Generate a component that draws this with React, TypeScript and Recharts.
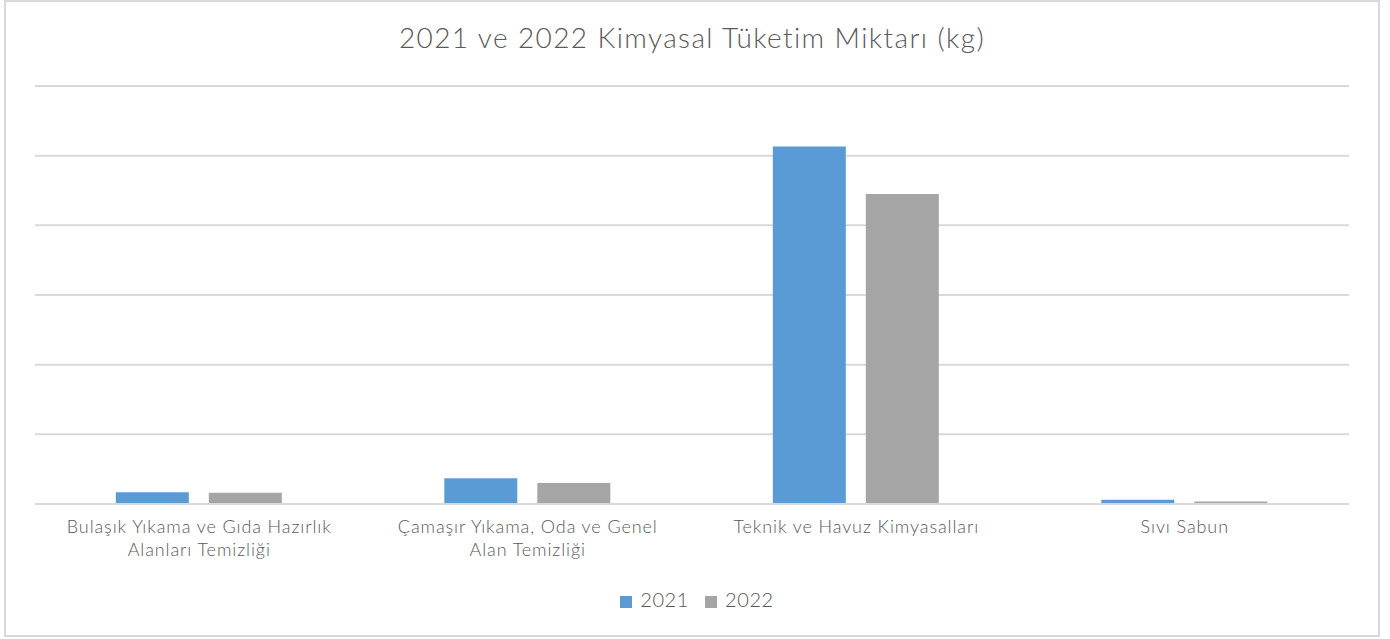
import { BarChart, Bar, XAxis, YAxis, CartesianGrid, Legend } from 'recharts'

// 2021 / 2022 kimyasal tüketim (kg)
const categories = [
  'Bulaşık Yıkama ve Gıda Hazırlık Alanları Temizliği',
  'Çamaşır Yıkama, Oda ve Genel Alan Temizliği',
  'Teknik ve Havuz Kimyasalları',
  'Sıvı Sabun',
]
const tickLines = [
  ['Bulaşık Yıkama ve Gıda Hazırlık', 'Alanları Temizliği'],
  ['Çamaşır Yıkama, Oda ve Genel', 'Alan Temizliği'],
  ['Teknik ve Havuz Kimyasalları'],
  ['Sıvı Sabun'],
]
const values2021 = [1700, 3700, 51300, 600]
const values2022 = [1600, 3000, 44500, 350]
const yTicks = [0, 10000, 20000, 30000, 40000, 50000, 60000]

const data = categories.map((name, i) => ({
  name,
  y2021: values2021[i],
  y2022: values2022[i],
}))

const FONT = '"Century Gothic", Lato, "Open Sans", sans-serif'
const TEXT = '#595959'

function CategoryTick({ x, y, index }: any) {
  const lines = tickLines[index] || []
  return (
    <g transform={`translate(${x},${y})`}>
      {lines.map((l, i) => (
        <text
          key={i}
          x={0}
          y={i * 23}
          dy={21}
          textAnchor="middle"
          fill={TEXT}
          fontSize={18}
          fontWeight={300}
          letterSpacing={0.9}
          fontFamily={FONT}
        >
          {l}
        </text>
      ))}
    </g>
  )
}

export default function App() {
  return (
    <div style={{ position: 'absolute', left: 0, top: 0, width: 1390, height: 639, background: '#fff', fontFamily: FONT }}>
      {/* çerçeve */}
      <div style={{ position: 'absolute', left: 4, top: 0, width: 1372, height: 633, border: '2px solid #d9d9d9' }} />
      <div
        style={{
          position: 'absolute',
          left: 0,
          top: 20,
          width: 1384,
          textAlign: 'center',
          fontSize: 28,
          fontWeight: 300,
          letterSpacing: 1.4,
          color: TEXT,
        }}
      >
        2021 ve 2022 Kimyasal Tüketim Miktarı (kg)
      </div>
      <div style={{ position: 'absolute', left: 0, top: 0 }}>
        <BarChart
          width={1390}
          height={639}
          data={data}
          margin={{ top: 86, right: 41, left: 35, bottom: 81 }}
          barCategoryGap="24.6%"
          barGap={20}
        >
          <CartesianGrid vertical={false} stroke="#d9d9d9" strokeWidth={2} />
          <YAxis hide domain={[0, 60000]} ticks={yTicks} />
          <XAxis
            dataKey="name"
            axisLine={{ stroke: '#d9d9d9', strokeWidth: 2 }}
            tickLine={false}
            interval={0}
            tick={<CategoryTick />}
          />
          <Legend
            verticalAlign="bottom"
            iconType="square"
            iconSize={12}
            wrapperStyle={{ top: 587, left: 10, width: 1390, fontSize: 20, fontWeight: 300, letterSpacing: 0.6, fontFamily: FONT }}
            formatter={(v: string) => <span style={{ color: TEXT, marginLeft: 4, marginRight: 6 }}>{v}</span>}
          />
          <Bar dataKey="y2021" name="2021" fill="#5b9bd5" isAnimationActive={false} />
          <Bar dataKey="y2022" name="2022" fill="#a5a5a5" isAnimationActive={false} />
        </BarChart>
      </div>
    </div>
  )
}
